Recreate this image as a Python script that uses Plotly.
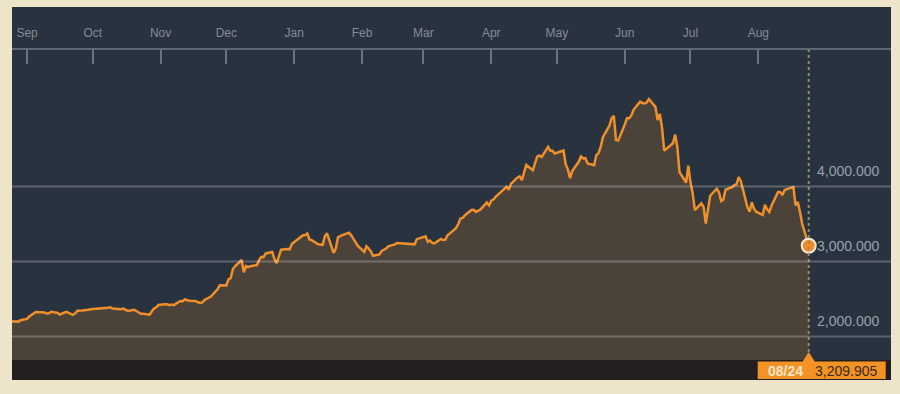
import plotly.graph_objects as go

# ---- data (Shanghai Composite style index) ----
dates = [
    "2014-08-25","2014-08-26","2014-08-27","2014-08-28","2014-08-29",
    "2014-09-01","2014-09-02","2014-09-03","2014-09-04","2014-09-05","2014-09-09","2014-09-10","2014-09-11","2014-09-12",
    "2014-09-15","2014-09-16","2014-09-17","2014-09-18","2014-09-19","2014-09-22","2014-09-23","2014-09-24","2014-09-25",
    "2014-09-26","2014-09-29","2014-09-30",
    "2014-10-08","2014-10-09","2014-10-10","2014-10-13","2014-10-14","2014-10-15","2014-10-16","2014-10-17","2014-10-20",
    "2014-10-21","2014-10-22","2014-10-23","2014-10-24","2014-10-27","2014-10-28","2014-10-29","2014-10-30","2014-10-31",
    "2014-11-03","2014-11-04","2014-11-05","2014-11-06","2014-11-07","2014-11-10","2014-11-11","2014-11-12","2014-11-13",
    "2014-11-14","2014-11-17","2014-11-18","2014-11-19","2014-11-20","2014-11-21","2014-11-24","2014-11-25","2014-11-26",
    "2014-11-27","2014-11-28",
    "2014-12-01","2014-12-02","2014-12-03","2014-12-04","2014-12-05","2014-12-08","2014-12-09","2014-12-10","2014-12-11",
    "2014-12-12","2014-12-15","2014-12-16","2014-12-17","2014-12-18","2014-12-19","2014-12-22","2014-12-23","2014-12-24",
    "2014-12-25","2014-12-26","2014-12-29","2014-12-30","2014-12-31",
    "2015-01-05","2015-01-06","2015-01-07","2015-01-08","2015-01-09","2015-01-12","2015-01-13","2015-01-14","2015-01-15",
    "2015-01-16","2015-01-19","2015-01-20","2015-01-21","2015-01-22","2015-01-23","2015-01-26","2015-01-27","2015-01-28",
    "2015-01-29","2015-01-30",
    "2015-02-02","2015-02-03","2015-02-04","2015-02-05","2015-02-06","2015-02-09","2015-02-10","2015-02-11","2015-02-12",
    "2015-02-13","2015-02-16","2015-02-17","2015-02-25","2015-02-26","2015-02-27",
    "2015-03-02","2015-03-03","2015-03-04","2015-03-05","2015-03-06","2015-03-09","2015-03-10","2015-03-11","2015-03-12",
    "2015-03-13","2015-03-16","2015-03-17","2015-03-18","2015-03-19","2015-03-20","2015-03-23","2015-03-24","2015-03-25",
    "2015-03-26","2015-03-27","2015-03-30","2015-03-31",
    "2015-04-01","2015-04-02","2015-04-03","2015-04-07","2015-04-08","2015-04-09","2015-04-10","2015-04-13","2015-04-14",
    "2015-04-15","2015-04-16","2015-04-17","2015-04-20","2015-04-21","2015-04-22","2015-04-23","2015-04-24","2015-04-27",
    "2015-04-28","2015-04-29","2015-04-30",
    "2015-05-04","2015-05-05","2015-05-06","2015-05-07","2015-05-08","2015-05-11","2015-05-12","2015-05-13","2015-05-14",
    "2015-05-15","2015-05-18","2015-05-19","2015-05-20","2015-05-21","2015-05-22","2015-05-25","2015-05-26","2015-05-27",
    "2015-05-28","2015-05-29",
    "2015-06-01","2015-06-02","2015-06-03","2015-06-04","2015-06-05","2015-06-08","2015-06-09","2015-06-10","2015-06-11",
    "2015-06-12","2015-06-15","2015-06-16","2015-06-17","2015-06-18","2015-06-19","2015-06-23","2015-06-24","2015-06-25",
    "2015-06-26","2015-06-29","2015-06-30",
    "2015-07-01","2015-07-02","2015-07-03","2015-07-06","2015-07-07","2015-07-08","2015-07-09","2015-07-10","2015-07-13",
    "2015-07-14","2015-07-15","2015-07-16","2015-07-17","2015-07-20","2015-07-21","2015-07-22","2015-07-23","2015-07-24",
    "2015-07-27","2015-07-28","2015-07-29","2015-07-30","2015-07-31",
    "2015-08-03","2015-08-04","2015-08-05","2015-08-06","2015-08-07","2015-08-10","2015-08-11","2015-08-12","2015-08-13",
    "2015-08-14","2015-08-17","2015-08-18","2015-08-19","2015-08-20","2015-08-21","2015-08-24",
]
values = [
    2207, 2198, 2203, 2196, 2217,
    2235, 2266, 2288, 2306, 2326, 2319, 2307, 2311, 2331,
    2315, 2290, 2307, 2315, 2329, 2290, 2310, 2345, 2344,
    2347, 2357, 2364,
    2383, 2390, 2374, 2366, 2364, 2373, 2356, 2341, 2357,
    2340, 2326, 2302, 2302, 2290, 2337, 2373, 2391, 2420,
    2430, 2430, 2419, 2425, 2418, 2474, 2469, 2494, 2486,
    2478, 2474, 2456, 2450, 2452, 2487, 2532, 2567, 2604,
    2630, 2683,
    2680, 2763, 2779, 2900, 2937, 3020, 2856, 2940, 2926,
    2938, 2953, 3021, 3061, 3058, 3108, 3128, 3033, 2977,
    3073, 3158, 3168, 3166, 3235,
    3351, 3352, 3374, 3294, 3285, 3230, 3223, 3222, 3336,
    3376, 3116, 3173, 3323, 3343, 3351, 3383, 3352, 3305,
    3262, 3210,
    3128, 3204, 3174, 3136, 3076, 3095, 3141, 3158, 3173,
    3203, 3228, 3247, 3229, 3298, 3310,
    3336, 3263, 3280, 3248, 3241, 3302, 3286, 3290, 3349,
    3372, 3449, 3503, 3577, 3582, 3617, 3688, 3691, 3661,
    3682, 3691, 3786, 3748,
    3810, 3825, 3863, 3961, 3995, 3957, 4035, 4121, 4135,
    4084, 4194, 4287, 4217, 4294, 4398, 4414, 4394, 4527,
    4476, 4476, 4441,
    4480, 4298, 4229, 4112, 4205, 4333, 4401, 4375, 4378,
    4308, 4283, 4418, 4446, 4529, 4657, 4813, 4910, 4941,
    4620, 4612,
    4828, 4910, 4910, 4947, 5023, 5131, 5113, 5106, 5121,
    5166, 5062, 4887, 4967, 4785, 4478, 4577, 4691, 4527,
    4192, 4053, 4277,
    4053, 3912, 3686, 3776, 3727, 3507, 3709, 3877, 3970,
    3924, 3805, 3823, 3957, 3992, 4017, 4026, 4124, 4070,
    3725, 3663, 3789, 3705, 3664,
    3622, 3756, 3695, 3661, 3744, 3928, 3928, 3887, 3955,
    3965, 3993, 3748, 3794, 3664, 3507, 3209.905,
]
month_ticks = ["2014-09-01","2014-10-01","2014-11-01","2014-12-01","2015-01-01","2015-02-01",
               "2015-03-01","2015-04-01","2015-05-01","2015-06-01","2015-07-01","2015-08-01"]
month_labels = ["Sep","Oct","Nov","Dec","Jan","Feb","Mar","Apr","May","Jun","Jul","Aug"]
y_ticks = [2000, 3000, 4000]
x_range = ["2014-08-25 03:00", "2015-09-30 14:00"]
y_range = [1687, 5820]

# ---- styles ----
NAVY = "#29323f"
BROWN = "#4b423a"
ORANGE = "#f0902a"
BOX = "#f39325"
FONT = "Arial, Liberation Sans, sans-serif"

fig = go.Figure()
fig.add_trace(go.Scatter(
    x=dates, y=values, mode="lines", fill="tozeroy",
    fillcolor=BROWN, line=dict(color=ORANGE, width=2.5), hoverinfo="skip",
))
fig.add_trace(go.Scatter(
    x=[dates[-1]], y=[values[-1]], mode="markers", cliponaxis=False,
    marker=dict(size=14, color="#f28c24", line=dict(color="#f6ead8", width=2)),
    hoverinfo="skip",
))

shapes = [
    # top strip (month labels area)
    dict(type="rect", xref="paper", yref="paper", x0=0, x1=1, ysizemode="pixel", yanchor=1,
         y0=0, y1=43, fillcolor=NAVY, line=dict(width=0), layer="below"),
    # bottom dark band
    dict(type="rect", xref="paper", yref="paper", x0=0, x1=1, ysizemode="pixel", yanchor=0,
         y0=-20, y1=0, fillcolor="#221f1e", line=dict(width=0), layer="below"),
    # dotted vertical line at last date
    dict(type="line", xref="x", yref="paper", x0=dates[-1], x1=dates[-1], y0=0.026, y1=1,
         line=dict(color="#978a63", width=2, dash="dot"), layer="above"),
    # triangle pointer
    dict(type="path", xref="x", yref="paper", xsizemode="pixel", ysizemode="pixel",
         xanchor=dates[-1], yanchor=0, path="M -7,-3 L 0,8 L 7,-3 Z",
         fillcolor=BOX, line=dict(width=0), layer="above"),
    # label box
    dict(type="rect", xref="x", yref="paper", xsizemode="pixel", ysizemode="pixel",
         xanchor=dates[-1], yanchor=0, x0=-51, x1=77, y0=-19, y1=-1.5,
         fillcolor=BOX, line=dict(width=0), layer="above"),
]
for v in y_ticks:
    shapes.append(dict(type="line", xref="paper", yref="y", x0=0, x1=1, y0=v, y1=v,
                       line=dict(color="rgba(255,255,255,0.24)", width=2), layer="above"))

annotations = []
for v in y_ticks:
    annotations.append(dict(
        x=0.9135, xref="paper", y=v, yref="y", xanchor="left", yanchor="middle", yshift=16,
        text=f"{v:,.3f}", showarrow=False, font=dict(family=FONT, size=14, color="#98a1ad"),
    ))
last_label = dates[-1][5:7] + "/" + dates[-1][8:10]
annotations.append(dict(
    x=dates[-1], xref="x", y=0, yref="paper", xanchor="center", yanchor="middle",
    xshift=-23, yshift=-10.5, showarrow=False, text=f"<b>{last_label}</b>",
    font=dict(family=FONT, size=14, color="#fbe6cc"),
))
annotations.append(dict(
    x=dates[-1], xref="x", y=0, yref="paper", xanchor="center", yanchor="middle",
    xshift=37, yshift=-10.5, showarrow=False, text=f"{values[-1]:,.3f}",
    font=dict(family=FONT, size=14, color="#3a2816"),
))

fig.update_layout(
    width=900, height=394,
    margin=dict(l=12, r=9, t=50, b=34, pad=0),
    paper_bgcolor="#ede4c9", plot_bgcolor=NAVY,
    showlegend=False,
    shapes=shapes, annotations=annotations,
    xaxis=dict(
        type="date", range=x_range, side="top",
        tickvals=month_ticks, ticktext=month_labels,
        ticks="inside", ticklen=14, tickwidth=1.5, tickcolor="#6b7380",
        showline=True, linecolor="#5f6772", linewidth=2,
        showgrid=False, zeroline=False, ticklabelstandoff=6,
        tickfont=dict(family=FONT, size=12, color="#858c96"),
        fixedrange=True,
    ),
    yaxis=dict(
        range=y_range, showgrid=False, zeroline=False, showticklabels=False,
        ticks="", showline=False, fixedrange=True,
    ),
)

fig.write_html("out.html", config={"displayModeBar": False},
               post_script="document.body.style.margin='0px';document.body.style.background='#ede4c9';")
